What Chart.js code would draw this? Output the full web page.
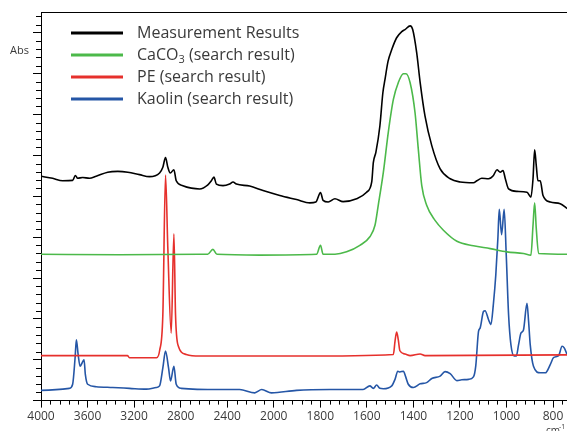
<!DOCTYPE html>
<html>
<head>
<meta charset="utf-8">
<script src="https://cdn.jsdelivr.net/npm/chart.js@4.4.0/dist/chart.umd.min.js"></script>
<style>
  html, body { margin: 0; padding: 0; background: #fff; }
</style>
</head>
<body>
<canvas id="spectra" width="567" height="431"></canvas>
<script>
// wavenumbers (cm-1) and absorbance, each series offset as drawn
const seriesNames = ['Measurement Results', 'CaCO3 (search result)', 'PE (search result)', 'Kaolin (search result)'];
const seriesColors = ['#000000', '#4cb94a', '#e6302c', '#2556a6'];

const measuredWn = [4000,3900,3814,3728,3705,3685,3642,3584,3526,3427,3340,3254,3154,3068,2981,2953,2930,2910,2889,2858,2838,2781,2708,2637,2566,2536,2514,2493,2436,2379,2350,2321,2207,2092,1974,1902,1845,1819,1799,1788,1766,1737,1702,1644,1601,1579,1572,1561,1544,1531,1522,1509,1493,1472,1450,1436,1414,1403,1386,1371,1350,1321,1285,1242,1199,1142,1127,1106,1077,1056,1041,1027,1015,1005,991,955,912,895,886,879,872,865,855,843,812,769,740];
const measuredAbs = [5.49,5.44,5.38,5.39,5.51,5.44,5.46,5.44,5.49,5.59,5.61,5.59,5.53,5.48,5.57,5.71,5.95,5.71,5.57,5.65,5.38,5.26,5.20,5.18,5.28,5.38,5.47,5.30,5.26,5.30,5.35,5.30,5.25,5.14,5.02,4.92,4.84,4.86,5.09,4.90,4.86,4.94,4.87,4.94,5.10,5.35,5.83,6.08,6.72,7.54,7.86,8.30,8.59,8.88,9.03,9.08,9.17,9.08,8.52,7.79,6.96,6.24,5.67,5.43,5.35,5.33,5.38,5.44,5.43,5.51,5.65,5.59,5.63,5.43,5.18,5.12,5.10,4.98,5.43,6.14,5.75,5.38,5.38,5.02,4.86,4.82,4.70];

const caco3Wn = [4000,3326,2637,2568,2523,2488,2120,1816,1799,1788,1737,1687,1630,1587,1565,1551,1529,1508,1486,1465,1443,1432,1414,1393,1379,1364,1343,1307,1271,1213,1142,1070,998,927,895,886,879,872,862,740];
const caco3Abs = [3.58,3.57,3.58,3.58,3.70,3.58,3.56,3.58,3.80,3.58,3.58,3.64,3.80,4.01,4.29,4.78,5.59,6.56,7.37,7.78,8.00,8.00,7.78,7.05,6.16,5.26,4.78,4.41,4.17,3.90,3.79,3.72,3.64,3.60,3.56,4.29,4.84,4.21,3.60,3.58];

const peWn = [4000,3257,3240,3007,2981,2953,2930,2910,2881,2858,2844,2824,2752,2637,1888,1486,1479,1472,1465,1458,1436,1414,1371,1350,740];
const peAbs = [1.10,1.10,1.05,1.05,1.22,2.10,5.52,3.72,1.65,4.08,2.10,1.37,1.13,1.09,1.09,1.13,1.45,1.68,1.49,1.22,1.14,1.10,1.14,1.10,1.12];

const kaolinWn = [4000,3756,3728,3707,3696,3681,3664,3647,3630,3619,3599,3526,3384,3240,3096,3010,2981,2953,2930,2904,2887,2858,2838,2795,2465,2293,2163,2103,2020,1902,1759,1616,1587,1572,1558,1544,1529,1493,1479,1467,1458,1443,1433,1422,1400,1371,1343,1321,1285,1264,1242,1213,1192,1163,1142,1132,1120,1113,1099,1092,1077,1067,1056,1046,1037,1031,1021,1010,1001,991,981,967,958,948,938,927,912,905,898,884,855,833,812,798,776,761,752,740];
const kaolinAbs = [0.25,0.30,0.40,1.05,1.49,1.13,0.84,0.92,1.00,0.64,0.40,0.34,0.32,0.30,0.28,0.32,0.36,0.80,1.21,0.80,0.48,0.84,0.40,0.30,0.27,0.27,0.19,0.27,0.19,0.25,0.27,0.27,0.36,0.30,0.38,0.30,0.29,0.36,0.52,0.72,0.70,0.72,0.58,0.40,0.32,0.41,0.44,0.54,0.60,0.71,0.66,0.49,0.51,0.52,0.58,0.85,1.70,1.78,2.18,2.20,1.98,1.86,2.38,3.07,3.97,4.68,4.06,4.68,3.56,2.10,1.37,1.09,1.09,1.37,1.65,1.73,2.38,1.94,1.37,0.84,0.68,0.68,0.88,1.05,1.10,1.33,1.29,1.13];

const xTickLabels = [4000, 3600, 3200, 2800, 2400, 2000, 1800, 1600, 1400, 1200, 1000, 800];
const xRange = [4000, 740];
const yMax = 9.51;

// the axis is compressed 2:1 above 2000 cm-1, like the instrument plot
function toPos(wn) { return wn >= 2000 ? (4000 - wn) / 2 : 1000 + (2000 - wn); }
function fromPos(p) { return p <= 1000 ? 4000 - 2 * p : 3000 - p; }

function pts(wn, ab) { return wn.map((w, i) => ({ x: toPos(w), y: ab[i] })); }

const allWn = [measuredWn, caco3Wn, peWn, kaolinWn];
const allAbs = [measuredAbs, caco3Abs, peAbs, kaolinAbs];

const textColor = '#3a3a3a';
const fontFam = "'Open Sans', sans-serif";

const extras = {
  id: 'extras',
  afterDraw(chart) {
    const ctx = chart.ctx;
    const area = chart.chartArea;
    const xs = chart.scales.x, ys = chart.scales.y;
    ctx.save();
    ctx.strokeStyle = '#000';
    ctx.lineWidth = 1;
    // top frame line
    ctx.beginPath();
    ctx.moveTo(area.left, Math.round(area.top) + 0.5);
    ctx.lineTo(area.right, Math.round(area.top) + 0.5);
    ctx.stroke();
    // minor ticks
    ctx.beginPath();
    for (let p = 40; p < xs.max; p += 40) {
      if (p % 200 === 0) continue;
      const px = Math.round(xs.getPixelForValue(p)) + 0.5;
      ctx.moveTo(px, area.bottom);
      ctx.lineTo(px, area.bottom + 4);
    }
    for (let i = 1; i * 0.2 < ys.max; i++) {
      if (i % 5 === 0) continue;
      const py = Math.round(ys.getPixelForValue(i * 0.2)) + 0.5;
      ctx.moveTo(area.left - 5, py);
      ctx.lineTo(area.left, py);
    }
    ctx.stroke();

    // legend
    ctx.textBaseline = 'middle';
    chart.data.datasets.forEach((ds, i) => {
      const y = 33 + i * 22;
      ctx.strokeStyle = ds.borderColor;
      ctx.lineWidth = 3;
      ctx.beginPath();
      ctx.moveTo(71, y);
      ctx.lineTo(123, y);
      ctx.stroke();
      ctx.fillStyle = textColor;
      let x = 137;
      const m = ds.label.match(/^(.*?[A-Za-z])(\d)(.*)$/);
      if (m) {
        ctx.font = '16px ' + fontFam;
        ctx.fillText(m[1], x, y);
        x += ctx.measureText(m[1]).width;
        ctx.font = '11px ' + fontFam;
        ctx.fillText(m[2], x, y + 5);
        x += ctx.measureText(m[2]).width;
        ctx.font = '16px ' + fontFam;
        ctx.fillText(m[3], x, y);
      } else {
        ctx.font = '16px ' + fontFam;
        ctx.fillText(ds.label, x, y);
      }
    });

    // axis captions
    ctx.fillStyle = textColor;
    ctx.font = '11px ' + fontFam;
    ctx.textBaseline = 'middle';
    ctx.fillText('Abs', 10, 51);
    ctx.font = '10px ' + fontFam;
    ctx.textBaseline = 'alphabetic';
    ctx.fillText('cm', 546, 434);
    ctx.font = '7px ' + fontFam;
    ctx.fillText('-1', 559, 429);
    ctx.restore();
  }
};

new Chart(document.getElementById('spectra'), {
  type: 'line',
  data: {
    datasets: seriesNames.map((name, i) => ({
      label: name,
      data: pts(allWn[i], allAbs[i]),
      borderColor: seriesColors[i],
      borderWidth: 1.6,
      pointRadius: 0,
      cubicInterpolationMode: 'monotone',
      fill: false
    }))
  },
  options: {
    responsive: false,
    animation: false,
    devicePixelRatio: 1,
    layout: { padding: { left: 33, right: 0, top: 12, bottom: 5 } },
    plugins: { legend: { display: false }, tooltip: { enabled: false } },
    scales: {
      x: {
        type: 'linear',
        min: toPos(xRange[0]),
        max: toPos(xRange[1]),
        afterBuildTicks: (s) => { s.ticks = xTickLabels.map(v => ({ value: toPos(v) })); },
        ticks: {
          autoSkip: false,
          maxRotation: 0,
          padding: 2,
          color: textColor,
          font: { family: fontFam, size: 12 },
          callback: (val) => String(fromPos(val))
        },
        grid: { drawOnChartArea: false, drawTicks: true, tickLength: 7, tickColor: '#000' },
        border: { color: '#000', width: 1 }
      },
      y: {
        min: 0,
        max: yMax,
        afterBuildTicks: (s) => {
          const t = [];
          for (let v = 0; v <= 9; v++) t.push({ value: v });
          s.ticks = t;
        },
        ticks: { display: false },
        grid: { drawOnChartArea: false, drawTicks: true, tickLength: 8, tickColor: '#000' },
        border: { color: '#000', width: 1 }
      }
    }
  },
  plugins: [extras]
});
</script>
</body>
</html>
